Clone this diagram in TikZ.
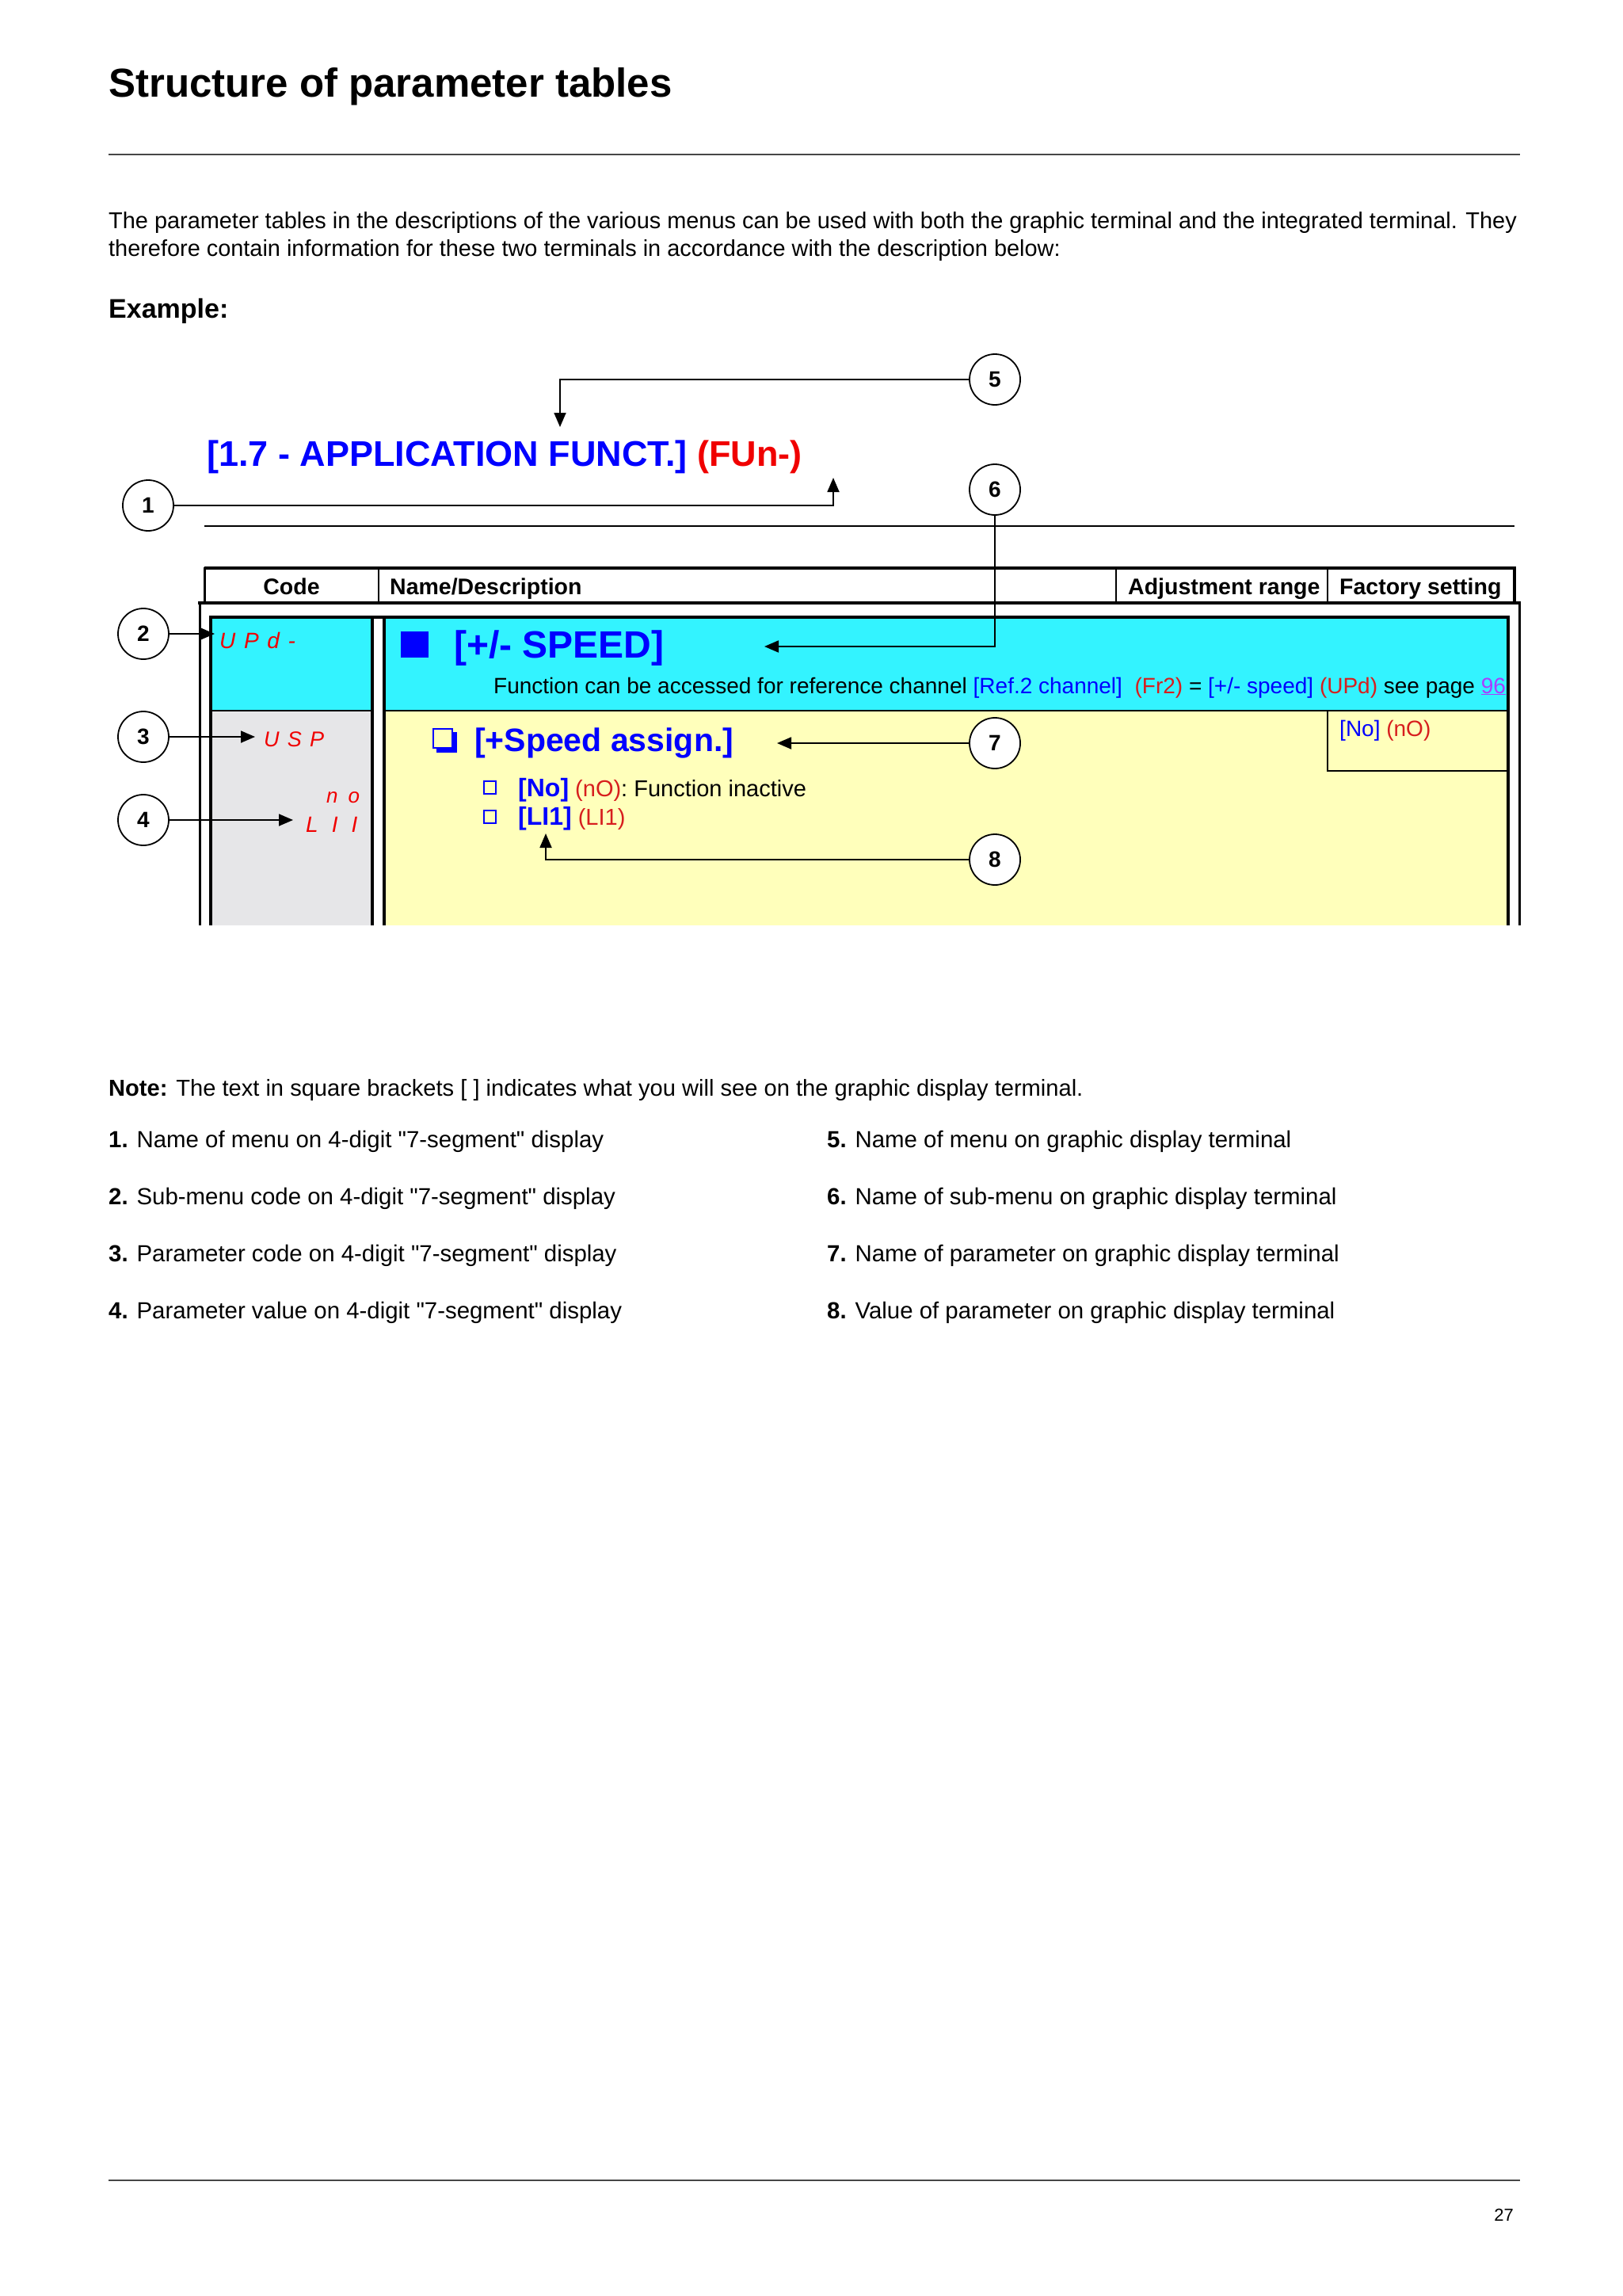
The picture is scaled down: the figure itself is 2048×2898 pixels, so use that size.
\documentclass[tikz,border=0pt]{standalone}
\usepackage{fontspec}
\setmainfont{Liberation Sans}
\newfontfamily\segfont[LetterSpace=38]{Liberation Sans}
\usetikzlibrary{arrows.meta}
\definecolor{cyanbg}{RGB}{51,243,255}
\definecolor{yellowbg}{RGB}{255,255,187}
\definecolor{greybg}{RGB}{230,230,232}
\definecolor{tblue}{RGB}{0,0,255}
\definecolor{tred}{RGB}{240,0,0}
\definecolor{dred}{RGB}{215,30,30}
\definecolor{linkpurple}{RGB}{170,60,255}
\definecolor{rulegrey}{RGB}{70,70,70}
\newcommand{\fsz}[1]{\fontsize{#1}{#1}\selectfont}
\newcommand{\qq}{\textquotedbl}
\begin{document}
\begin{tikzpicture}[x=1pt,y=-1pt,
  num/.style={circle, draw, line width=1.8pt, minimum size=64pt, inner sep=0pt, font=\fsz{28}\bfseries, fill=white},
  arr/.style={line width=1.8pt, -{Triangle[length=18pt,width=15pt]}},
  txt/.style={anchor=base west, inner sep=0pt, font=\fsz{28.9}},
  notetxt/.style={anchor=base west, inner sep=0pt, font=\fsz{29.4}},
  seg/.style={anchor=base west, inner sep=0pt, text=tred, font=\segfont\fsz{26}\itshape},
  heavy/.style={line width=4pt},
  fine/.style={line width=1.5pt},
  hdr/.style={anchor=base west, inner sep=0pt, font=\fsz{28.5}\bfseries}]
\useasboundingbox (0,0) rectangle (2048,2898);
\fill[white] (0,0) rectangle (2048,2898);

% page header
\node[txt, font=\fsz{51}\bfseries] (title) at (137,123) {Structure of parameter tables};
\draw[fine, rulegrey] (137,195) -- (1919,195);
\node[txt] (para1) at (137,288) {The parameter tables in the descriptions of the various menus can be used with both the graphic terminal and the integrated terminal. They};
\node[txt] (para2) at (137,323) {therefore contain information for these two terminals in accordance with the description below:};
\node[txt, font=\fsz{34}\bfseries] (example) at (137,401) {Example:};

% menu title
\node[txt, font=\fsz{45}\bfseries] (menu) at (261,588) {\textcolor{tblue}{[1.7 - APPLICATION FUNCT.]} \textcolor{tred}{(FUn-)}};
\draw[fine] (258,664) -- (1912,664);

% table fills
\fill[cyanbg] (268,781) rectangle (469,897);
\fill[cyanbg] (486,781) rectangle (1902,897);
\fill[greybg] (268,897) rectangle (469,1168);
\fill[yellowbg] (486,897) rectangle (1902,1168);

% header box
\draw[heavy] (258,717) -- (1912,717);
\draw[line width=3pt] (258,715.5) -- (258,761);
\draw[heavy] (1912,715) -- (1912,761);
\draw[fine] (478,717) -- (478,761);
\draw[fine] (1409,717) -- (1409,761);
\draw[fine] (1676,717) -- (1676,761);
\node[hdr, anchor=base] (hcode) at (368,750) {Code};
\node[hdr] (hname) at (492,750) {Name/Description};
\node[hdr] (hadj) at (1424,750) {Adjustment range};
\node[hdr] (hfac) at (1691,750) {Factory setting};

% outer frame
\draw[heavy] (250,761) -- (1920,761);
\draw[line width=3pt] (252,761) -- (252,1168);
\draw[line width=3pt] (1918,761) -- (1918,1168);

% inner box
\draw[heavy] (264,779) -- (1906,779);
\draw[heavy] (266,777) -- (266,1168);
\draw[heavy] (1904,777) -- (1904,1168);
\draw[heavy] (470,779) -- (470,1168);
\draw[heavy] (485,779) -- (485,1168);
\draw[fine] (266,897) -- (470,897);
\draw[fine] (485,897) -- (1904,897);
\draw[fine] (1676,897) -- (1676,973) -- (1904,973);

% seven-segment codes
\node[seg, font=\segfont\fsz{28}\itshape] (upd) at (277,818) {UPd-};
\node[seg, font=\segfont\fsz{27}\itshape] (usp) at (333,942) {USP};
\node[seg, font=\fsz{26}\itshape] (segno) at (412,1013) {n\hspace{13pt}o};
\node[seg, font=\fsz{28}\itshape] (seglii) at (386,1050) {L\hspace{17pt}I\hspace{17pt}I};

% cyan row
\node[fill=tblue, minimum width=35pt, minimum height=33pt, inner sep=0pt, anchor=north west] (bsq) at (506,797) {};
\node[txt, font=\fsz{48}\bfseries, text=tblue] (speed) at (573,830) {[+/- SPEED]};
\node[txt, font=\fsz{28}] (func) at (623,875) {Function can be accessed for reference channel \textcolor{tblue}{[Ref.2 channel]}~ \textcolor{dred}{(Fr2)} = \textcolor{tblue}{[+/- speed]} \textcolor{dred}{(UPd)} see page \textcolor{linkpurple}{\underline{96}}};

% yellow row
\fill[tblue] (551,924) rectangle (577,950);
\filldraw[fill=yellowbg, draw=tblue, line width=2pt] (547,920) rectangle (571,944);
\node[txt, font=\fsz{41}\bfseries, text=tblue] (assign) at (599,948) {[+Speed assign.]};
\draw[tblue, line width=2pt] (611,986) rectangle (626,1002);
\draw[tblue, line width=2pt] (611,1023) rectangle (626,1039);
\node[txt, font=\fsz{29}] (optno) at (654,1005) {{\color{tblue}\fsz{32}\bfseries [No]} {\color{dred}(nO)}: Function inactive};
\node[txt, font=\fsz{29}] (optli) at (654,1041) {{\color{tblue}\fsz{32}\bfseries [LI1]} {\color{dred}(LI1)}};
\node[txt, font=\fsz{28}] (facno) at (1691,929) {\textcolor{tblue}{[No]} \textcolor{dred}{(nO)}};

% numbered circles
\node[num] (c1) at (187,638) {1};
\node[num] (c2) at (181,800) {2};
\node[num] (c3) at (181,930) {3};
\node[num] (c4) at (181,1035) {4};
\node[num] (c5) at (1256,479) {5};
\node[num] (c6) at (1256,618) {6};
\node[num] (c7) at (1256,938) {7};
\node[num] (c8) at (1256,1085) {8};

% connectors
\coordinate (t1) at (1052,603);
\coordinate (t2) at (271,800);
\coordinate (t3) at (322,930);
\coordinate (t4) at (370,1035);
\coordinate (t5) at (707,539);
\coordinate (t6) at (965,816);
\coordinate (t7) at (981,938);
\coordinate (t8) at (689,1052);
\draw[arr] (c1.east) -| (t1);
\draw[arr] (c2.east) -- (t2);
\draw[arr] (c3.east) -- (t3);
\draw[arr] (c4.east) -- (t4);
\draw[arr] (c5.west) -| (t5);
\draw[arr] (c6.south) |- (t6);
\draw[arr] (c7.west) -- (t7);
\draw[arr] (c8.west) -| (t8);

% notes
\node[notetxt, font=\fsz{29.1}] (note) at (137,1383) {\textbf{Note:} The text in square brackets [ ] indicates what you will see on the graphic display terminal.};
\node[notetxt] (n1) at (137,1448) {\textbf{1.} Name of menu on 4-digit \qq7-segment\qq{} display};
\node[notetxt] (n2) at (137,1520) {\textbf{2.} Sub-menu code on 4-digit \qq7-segment\qq{} display};
\node[notetxt] (n3) at (137,1592) {\textbf{3.} Parameter code on 4-digit \qq7-segment\qq{} display};
\node[notetxt] (n4) at (137,1664) {\textbf{4.} Parameter value on 4-digit \qq7-segment\qq{} display};
\node[notetxt] (n5) at (1044,1448) {\textbf{5.} Name of menu on graphic display terminal};
\node[notetxt] (n6) at (1044,1520) {\textbf{6.} Name of sub-menu on graphic display terminal};
\node[notetxt] (n7) at (1044,1592) {\textbf{7.} Name of parameter on graphic display terminal};
\node[notetxt] (n8) at (1044,1664) {\textbf{8.} Value of parameter on graphic display terminal};

% footer
\draw[fine, rulegrey] (137,2752) -- (1919,2752);
\node[txt, font=\fsz{22}, anchor=base east] (page) at (1911,2803) {27};
\end{tikzpicture}
\end{document}
